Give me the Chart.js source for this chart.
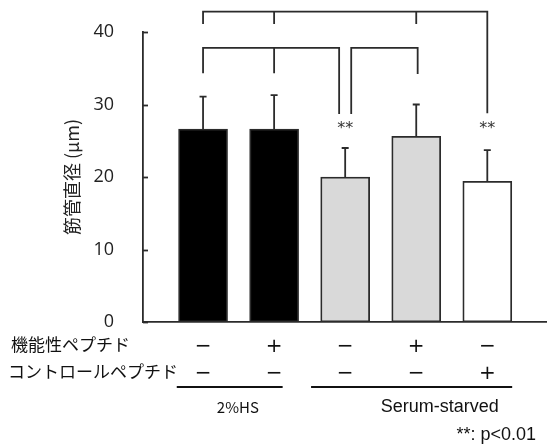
<!DOCTYPE html>
<html>
<head>
<meta charset="utf-8">
<script src="https://cdn.jsdelivr.net/npm/chart.js@4"></script>
<style>
  body { margin: 0; background: #fff; }
  #wrap { width: 547px; height: 446px; }
</style>
</head>
<body>
<div id="wrap"><canvas id="chart" width="547" height="446"></canvas></div>
<script>
// data
const groups = ['2%HS', '2%HS', 'Serum-starved', 'Serum-starved', 'Serum-starved'];
const peptide = ['−', '+', '−', '+', '−'];
const controlPeptide = ['−', '−', '−', '−', '+'];
const means = [26.6, 26.6, 20.0, 25.6, 19.4];
const sds = [4.5, 4.7, 4.0, 4.4, 4.3];
const barColors = ['#000000', '#000000', '#d9d9d9', '#d9d9d9', '#ffffff'];
const significant = [false, false, true, false, true];
const yTicks = [0, 10, 20, 30, 40];

// comparison brackets: [x, y] points, null breaks the path
const bracketTop = [[0, 41.1], [0, 42.8], [4, 42.8], [4, 28.8], null, [1, 42.8], [1, 41.1], null, [3, 42.8], [3, 41.1]];
const bracketLeft = [[0, 34.3], [0, 37.8], [1.915, 37.8], [1.915, 28.7], null, [1, 37.8], [1, 34.3]];
const bracketRight = [[2.085, 28.7], [2.085, 37.8], [3.02, 37.8], [3.02, 34.2]];

// group underlines below the table and their label positions
const groupNames = ['2%HS', 'Serum-starved'];
const groupSpans = [[-0.37, 1.12], [1.52, 4.35]];
const groupLabelX = [0.49, 3.33];

const INK = '#2b2b2b';

function toPoints(arr) {
    return arr.map(p => p ? { x: p[0], y: p[1] } : { x: NaN, y: null });
}

function bracketSet(arr) {
    return {
        type: 'line',
        data: toPoints(arr),
        borderColor: INK,
        borderWidth: 1.8,
        pointRadius: 0,
        tension: 0,
        spanGaps: false,
        clip: false,
    };
}

const extras = {
    id: 'extras',
    afterDatasetsDraw(chart) {
        const ctx = chart.ctx;
        const x = chart.scales.x;
        const y = chart.scales.y;
        ctx.save();
        ctx.strokeStyle = INK;
        ctx.lineWidth = 1.8;

        // inward y ticks
        yTicks.forEach(v => {
            const py = Math.round(y.getPixelForValue(v)) + 0.5;
            ctx.beginPath();
            ctx.moveTo(x.left, py);
            ctx.lineTo(x.left + 5, py);
            ctx.stroke();
        });

        // error bars (upper only)
        means.forEach((m, i) => {
            const px = x.getPixelForValue(i);
            const y0 = y.getPixelForValue(m);
            const y1 = y.getPixelForValue(m + sds[i]);
            ctx.beginPath();
            ctx.moveTo(px, y0);
            ctx.lineTo(px, y1);
            ctx.moveTo(px - 3.5, y1);
            ctx.lineTo(px + 3.5, y1);
            ctx.stroke();
        });

        // significance marks
        ctx.fillStyle = '#333';
        ctx.font = '16px "DejaVu Sans"';
        ctx.textAlign = 'center';
        ctx.textBaseline = 'middle';
        significant.forEach((s, i) => {
            if (s) ctx.fillText('**', x.getPixelForValue(i), y.getPixelForValue(26.9) + 2);
        });

        // row labels
        ctx.fillStyle = '#111';
        ctx.textAlign = 'left';
        ctx.font = '17px "Noto Sans CJK JP"';
        ctx.fillText('機能性ペプチド', 11, 345);
        ctx.fillText('コントロールペプチド', 8, 372);

        // group lines and names
        ctx.lineWidth = 2;
        ctx.strokeStyle = '#111';
        groupSpans.forEach((s, i) => {
            ctx.beginPath();
            ctx.moveTo(x.getPixelForValue(s[0]), 387);
            ctx.lineTo(x.getPixelForValue(s[1]), 387);
            ctx.stroke();
        });
        ctx.textAlign = 'center';
        ctx.font = '15px "Noto Sans CJK JP"';
        ctx.fillText(groupNames[0], x.getPixelForValue(groupLabelX[0]), 407);
        ctx.font = '18px "Liberation Sans"';
        ctx.fillText(groupNames[1], x.getPixelForValue(groupLabelX[1]), 407);

        ctx.textAlign = 'right';
        ctx.font = '18px "Liberation Sans"';
        ctx.fillText('**: p<0.01', 536, 435);
        ctx.restore();
    }
};

new Chart(document.getElementById('chart'), {
    data: {
        datasets: [
            {
                type: 'bar',
                data: means.map((m, i) => ({ x: i, y: m })),
                backgroundColor: barColors,
                borderColor: INK,
                borderWidth: 1.8,
                borderSkipped: false,
                barThickness: 49,
            },
            bracketSet(bracketTop),
            bracketSet(bracketLeft),
            bracketSet(bracketRight),
        ],
    },
    options: {
        responsive: false,
        animation: false,
        layout: { padding: { top: 32, right: 0, bottom: 0, left: 0 } },
        plugins: {
            legend: { display: false },
            tooltip: { enabled: false },
        },
        scales: {
            x: {
                type: 'linear',
                offset: false,
                min: -0.845,
                max: 4.84,
                grid: { display: false },
                border: { display: true, color: INK, width: 1.8 },
                afterBuildTicks: axis => { axis.ticks = peptide.map((p, i) => ({ value: i })); },
                afterFit: axis => { axis.height = 124; },
                ticks: {
                    padding: 3,
                    autoSkip: false,
                    maxRotation: 0,
                    color: '#111',
                    font: { family: 'DejaVu Sans', size: 20, lineHeight: 1.35 },
                    callback: (v, i) => [peptide[i], controlPeptide[i]],
                },
            },
            y: {
                min: 0,
                max: 40,
                grid: { display: false },
                border: { display: true, color: INK, width: 1.8 },
                afterBuildTicks: axis => { axis.ticks = yTicks.map(v => ({ value: v })); },
                afterFit: axis => { axis.width = 143; },
                ticks: {
                    padding: 21,
                    color: '#222',
                    font: { family: 'Open Sans', size: 18 },
                },
                title: {
                    display: true,
                    text: '筋管直径 (μm)',
                    color: '#222',
                    font: { family: 'Noto Sans CJK JP', size: 18 },
                    padding: { top: 61, bottom: 0 },
                },
            },
        },
    },
    plugins: [extras],
});
</script>
</body>
</html>
